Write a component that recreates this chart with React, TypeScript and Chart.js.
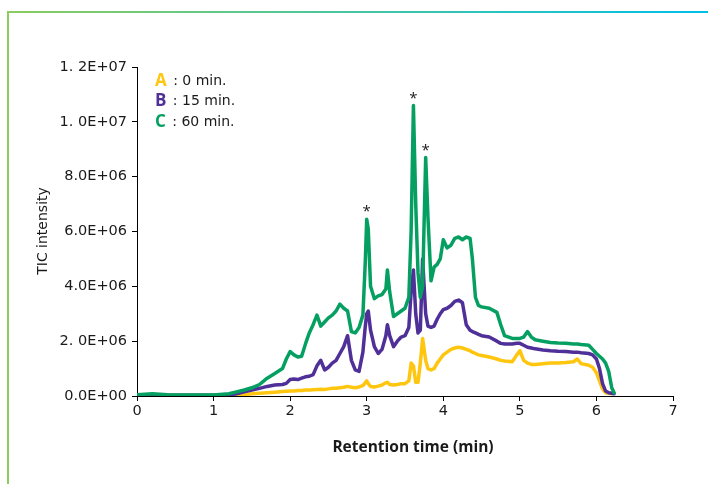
import React, { useEffect, useRef } from "react";
import { Chart, registerables } from "chart.js";

Chart.register(...registerables);

// Retention time (min), shared by the three traces
const times = [
  0, 0.2, 0.4, 0.6, 0.8, 1.0, 1.2, 1.3, 1.4, 1.5, 1.6, 1.7, 1.8, 1.9, 1.95,
  2.0, 2.05, 2.1, 2.15, 2.2, 2.25, 2.3, 2.35, 2.4, 2.45, 2.5, 2.55, 2.6, 2.65,
  2.7, 2.75, 2.8, 2.85, 2.9, 2.95, 2.98, 3.0, 3.02, 3.05, 3.1, 3.15, 3.2, 3.25,
  3.27, 3.3, 3.35, 3.4, 3.45, 3.5, 3.55, 3.58, 3.61, 3.64, 3.67, 3.7, 3.73,
  3.77, 3.8, 3.84, 3.88, 3.92, 3.96, 4.0, 4.05, 4.1, 4.15, 4.2, 4.25, 4.3,
  4.35, 4.38, 4.42, 4.46, 4.5, 4.6, 4.7, 4.75, 4.8, 4.9, 4.96, 5.0, 5.05, 5.1,
  5.15, 5.2, 5.3, 5.4, 5.5, 5.6, 5.7, 5.75, 5.8, 5.9, 5.95, 6.0, 6.04, 6.08,
  6.12, 6.16, 6.2, 6.23,
];

// TIC intensity in units of 1E+06
const greenValues = [
  0.05, 0.08, 0.05, 0.04, 0.04, 0.04, 0.08, 0.15, 0.22, 0.3, 0.42, 0.65, 0.82, 1.0, 1.35,
  1.62, 1.5, 1.42, 1.45, 1.9, 2.3, 2.6, 2.95, 2.55, 2.7, 2.85, 2.95, 3.1, 3.35,
  3.2, 3.1, 2.35, 2.3, 2.5, 2.95, 4.8, 6.45, 6.1, 4.0, 3.55, 3.65, 3.7, 3.9,
  4.6, 3.8, 2.9, 3.0, 3.1, 3.2, 3.6, 6.0, 10.6, 7.0, 4.5, 3.6, 4.0,
  8.7, 6.5, 4.2, 4.7, 4.8, 5.0, 5.7, 5.4, 5.5, 5.75, 5.8, 5.7, 5.8,
  5.75, 5.0, 3.6, 3.3, 3.25, 3.2, 3.05, 2.6, 2.2, 2.1, 2.1, 2.1, 2.15, 2.35,
  2.15, 2.05, 2.0, 1.95, 1.93, 1.92, 1.9, 1.9, 1.88, 1.85, 1.7, 1.55, 1.45, 1.35,
  1.2, 0.9, 0.3, 0.12,
];

const purpleValues = [
  0.03, 0.03, 0.03, 0.03, 0.03, 0.03, 0.04, 0.08, 0.15, 0.22, 0.28, 0.35, 0.4, 0.42, 0.46,
  0.6, 0.62, 0.6, 0.65, 0.7, 0.72, 0.78, 1.1, 1.3, 0.95, 1.05, 1.2, 1.3, 1.55,
  1.8, 2.2, 1.3, 0.95, 0.9, 1.6, 2.5, 3.0, 3.1, 2.4, 1.8, 1.55, 1.7, 2.2,
  2.6, 2.2, 1.8, 2.0, 2.15, 2.2, 2.5, 3.8, 4.6, 3.0, 2.3, 2.4, 5.0,
  3.0, 2.55, 2.5, 2.55, 2.8, 3.0, 3.15, 3.2, 3.3, 3.45, 3.5, 3.4, 2.6,
  2.4, 2.35, 2.3, 2.25, 2.2, 2.15, 2.0, 1.92, 1.9, 1.9, 1.92, 1.92, 1.85, 1.78,
  1.75, 1.72, 1.68, 1.65, 1.63, 1.62, 1.6, 1.6, 1.58, 1.55, 1.5, 1.35, 1.0, 0.45,
  0.18, 0.12, 0.1, 0.08,
];

const yellowValues = [
  0.02, 0.02, 0.02, 0.02, 0.02, 0.02, 0.02, 0.03, 0.05, 0.08, 0.1, 0.12, 0.14, 0.16, 0.17,
  0.18, 0.18, 0.2, 0.2, 0.22, 0.22, 0.23, 0.24, 0.25, 0.24, 0.26, 0.28, 0.28, 0.3,
  0.32, 0.35, 0.32, 0.3, 0.33, 0.38, 0.48, 0.55, 0.45, 0.35, 0.33, 0.36, 0.4, 0.48,
  0.5, 0.42, 0.4, 0.42, 0.45, 0.45, 0.55, 1.2, 1.1, 0.5, 0.5, 1.2, 2.1,
  1.3, 1.0, 0.95, 1.0, 1.2, 1.35, 1.5, 1.6, 1.7, 1.75, 1.78, 1.75, 1.7,
  1.65, 1.6, 1.55, 1.5, 1.48, 1.42, 1.35, 1.3, 1.28, 1.25, 1.5, 1.65, 1.3, 1.2,
  1.15, 1.15, 1.18, 1.2, 1.2, 1.22, 1.25, 1.35, 1.18, 1.12, 1.05, 0.85, 0.55, 0.25,
  0.12, 0.1, 0.08, null,
];

const yTickLabels = ["0.0E+00", "2. 0E+06", "4.0E+06", "6.0E+06", "8.0E+06", "1. 0E+07", "1. 2E+07"];
const legendLetters = ["A", "B", "C"];
const legendTexts = [" : 0 min.", " : 15 min.", " : 60 min."];
const starredTimes = [3.0, 3.61, 3.77];
const xTitle = "Retention time (min)";
const yTitle = "TIC intensity";

const SCALE = 1e6;
const COLORS = { A: "#FFC610", B: "#4F2F98", C: "#05A061" };
const FONT = "'DejaVu Sans', sans-serif";

export default function App() {
  const ref = useRef<HTMLCanvasElement | null>(null);

  useEffect(() => {
    if (!ref.current) return;
    const mk = (vals: (number | null)[]) =>
      times.map((t, i) => ({ x: t, y: vals[i] == null ? null : (vals[i] as number) * SCALE }));

    const overlay = {
      id: "overlay",
      afterDraw(chart: any) {
        const ctx = chart.ctx as CanvasRenderingContext2D;
        const area = chart.chartArea;
        const xs = chart.scales.x;
        const ys = chart.scales.y;
        ctx.save();
        // axis titles
        ctx.fillStyle = "#1a1a1a";
        ctx.font = "bold 15.5px 'Open Sans', sans-serif";
        ctx.textAlign = "center";
        ctx.textBaseline = "middle";
        ctx.fillText(xTitle, 413, 448);
        ctx.save();
        ctx.translate(43, 231);
        ctx.rotate(-Math.PI / 2);
        ctx.font = "14px 'DejaVu Sans', sans-serif";
        ctx.fillText(yTitle, 0, 0);
        ctx.restore();
        // legend
        const colors = [COLORS.A, COLORS.B, COLORS.C];
        legendLetters.forEach((letter, i) => {
          const y = area.top + 14 + i * 20.5;
          const x = area.left + 18;
          ctx.textAlign = "left";
          ctx.font = "bold 17px 'Open Sans', sans-serif";
          ctx.fillStyle = colors[i];
          ctx.fillText(letter, x, y);
          const w = ctx.measureText(letter).width;
          ctx.font = "14px 'DejaVu Sans', sans-serif";
          ctx.fillStyle = "#1a1a1a";
          ctx.fillText(legendTexts[i], x + w + 2, y);
        });
        // asterisks above starred peaks
        ctx.font = "15px 'Open Sans', sans-serif";
        ctx.textAlign = "center";
        ctx.fillStyle = "#1a1a1a";
        starredTimes.forEach((t) => {
          const idx = times.indexOf(t);
          const px = xs.getPixelForValue(t);
          const py = ys.getPixelForValue(greenValues[idx] * SCALE);
          ctx.fillText("*", px, py - 7);
        });
        ctx.restore();
      },
    };

    const common = { borderWidth: 3.5, pointRadius: 0, tension: 0, fill: false, borderJoinStyle: "round" as const, borderCapStyle: "round" as const };
    const chart = new Chart(ref.current, {
      type: "line",
      data: {
        datasets: [
          { label: "C", data: mk(greenValues), borderColor: COLORS.C, ...common },
          { label: "B", data: mk(purpleValues), borderColor: COLORS.B, ...common },
          { label: "A", data: mk(yellowValues), borderColor: COLORS.A, ...common },
        ],
      },
      options: {
        animation: false,
        responsive: false,
        maintainAspectRatio: false,
        devicePixelRatio: 1,
        layout: { padding: { top: 67, right: 35, left: 0, bottom: 0 } },
        plugins: { legend: { display: false }, tooltip: { enabled: false } },
        scales: {
          x: {
            type: "linear",
            min: 0,
            max: 7,
            afterFit: (s: any) => { s.height = 88; },
            ticks: { stepSize: 1, color: "#1a1a1a", font: { family: FONT, size: 14.5 }, padding: 2, maxRotation: 0 },
            grid: { display: true, drawOnChartArea: false, drawTicks: true, tickLength: 5, color: "#000" },
            border: { display: true, color: "#000", width: 1 },
          },
          y: {
            type: "linear",
            min: 0,
            max: 1.2e7,
            afterFit: (s: any) => { s.width = 137; },
            ticks: {
              stepSize: 2e6,
              color: "#1a1a1a",
              font: { family: FONT, size: 14.5 },
              padding: 5,
              callback: (v: any) => yTickLabels[Math.round(Number(v) / 2e6)],
            },
            grid: { display: true, drawOnChartArea: false, drawTicks: true, tickLength: 5, color: "#000" },
            border: { display: true, color: "#000", width: 1 },
          },
        },
      },
      plugins: [overlay],
    });
    return () => chart.destroy();
  }, []);

  return (
    <div style={{ position: "fixed", left: 0, top: 0, width: 708, height: 484, background: "#fff" }}>
      <div style={{ position: "absolute", left: 7, top: 11, width: 701, height: 2, background: "linear-gradient(to right, #8CCB5E, #00BFE8)" }} />
      <div style={{ position: "absolute", left: 7, top: 11, width: 2, height: 473, background: "#8CCB5E" }} />
      <canvas ref={ref} width={708} height={484} style={{ position: "absolute", left: 0, top: 0 }} />
    </div>
  );
}
